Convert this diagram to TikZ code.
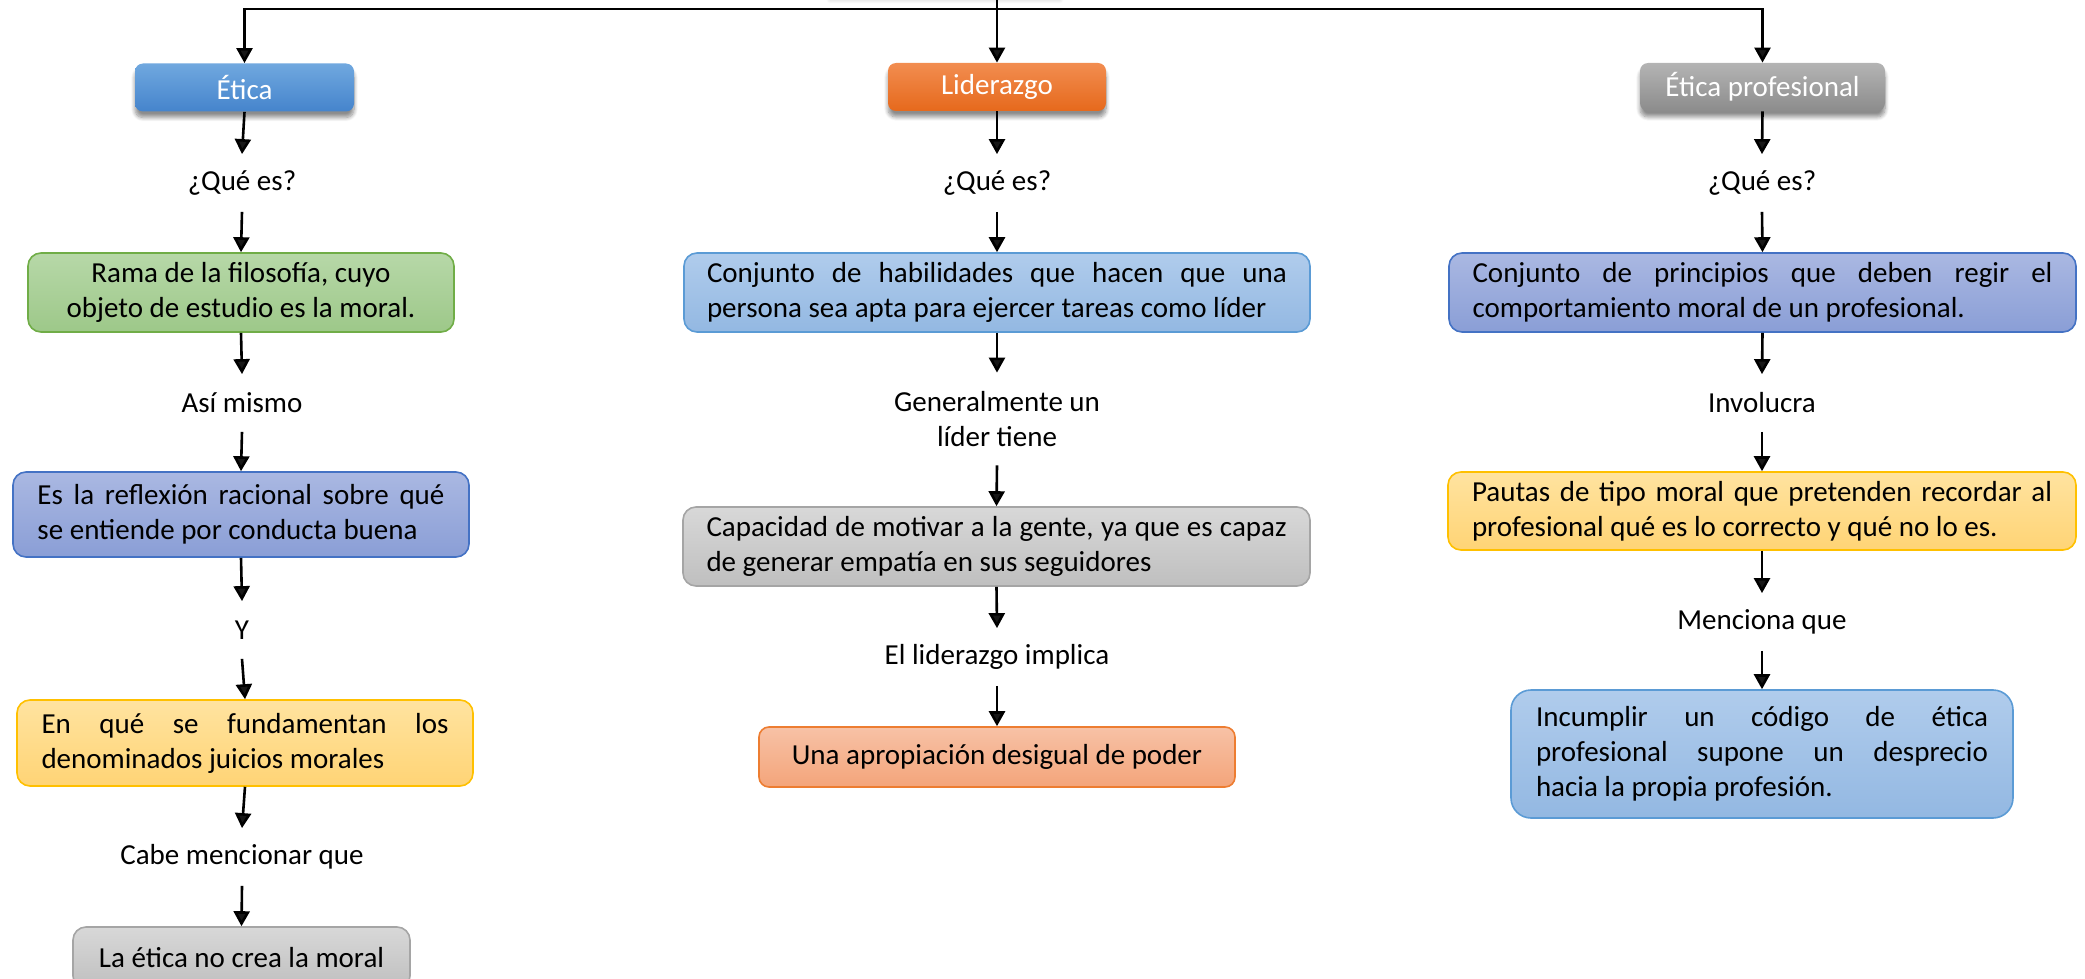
\documentclass[tikz,border=0pt]{standalone}
\usepackage{fontspec}
\setmainfont{Carlito}
\usetikzlibrary{arrows.meta,shadows.blur}
\newcommand{\jl}[2]{{\spaceskip=\fontdimen2\font plus 1fil\relax\xspaceskip=\spaceskip\hbox to #1{#2}}}
\definecolor{tBlueT}{HTML}{70A8DF}
\definecolor{tBlueB}{HTML}{4584CC}
\definecolor{tOrT}{HTML}{F28D50}
\definecolor{tOrB}{HTML}{E6691C}
\definecolor{tGrT}{HTML}{B4B4B4}
\definecolor{tGrB}{HTML}{8C8C8C}
\definecolor{gT}{HTML}{B7D8A8}
\definecolor{gB}{HTML}{9DC889}
\definecolor{gD}{HTML}{70AD47}
\definecolor{pT}{HTML}{AAB8E2}
\definecolor{pB}{HTML}{8A9ED6}
\definecolor{pD}{HTML}{4472C4}
\definecolor{lbT}{HTML}{B0CCEC}
\definecolor{lbB}{HTML}{93B8E2}
\definecolor{lbD}{HTML}{5B9BD5}
\definecolor{yT}{HTML}{FFE3A0}
\definecolor{yB}{HTML}{FFD475}
\definecolor{yD}{HTML}{FFC000}
\definecolor{grT}{HTML}{D8D8D8}
\definecolor{grB}{HTML}{BFBFBF}
\definecolor{grD}{HTML}{A5A5A5}
\definecolor{sT}{HTML}{F7C2A6}
\definecolor{sB}{HTML}{F4A47A}
\definecolor{sD}{HTML}{ED7D31}
\begin{document}
\begin{tikzpicture}[x=0.5pt,y=-0.5pt,
  every node/.style={font=\fontsize{14.5pt}{17.5pt}\selectfont},
  arr/.style={line width=1.3pt,-{Triangle[width=8pt,length=7.5pt]}},
  lbl/.style={inner sep=0pt,minimum height=28.5pt,align=center},
  title/.style={rounded corners=4pt,text=white,inner sep=0pt,minimum height=24pt,
    blur shadow={shadow xshift=0pt,shadow yshift=-3pt,shadow blur steps=8,shadow opacity=45}},
  box/.style={rounded corners=6.5pt,line width=0.8pt,inner sep=0pt,minimum height=39.5pt},
  green/.style={box,draw=gD,top color=gT,bottom color=gB},
  purple/.style={box,draw=pD,top color=pT,bottom color=pB},
  lblue/.style={box,draw=lbD,top color=lbT,bottom color=lbB},
  yellow/.style={box,draw=yD,top color=yT,bottom color=yB},
  grey/.style={box,draw=grD,top color=grT,bottom color=grB},
  salmon/.style={box,draw=sD,top color=sT,bottom color=sB}]
\useasboundingbox (0,0) rectangle (2085,979);
% faint shadow of a box above the frame
\path[fill=white,blur shadow={shadow xshift=0pt,shadow yshift=-3pt,shadow blur steps=8,shadow opacity=18}] (830,-60) rectangle (1060,-6);

% titles
\node[title,top color=tBlueT,bottom color=tBlueB,minimum width=109.5pt] (T1) at (244.5,87.5) {Ética};
\node[title,top color=tOrT,bottom color=tOrB,minimum width=109pt] (T2) at (997,87) {Liderazgo};
\node[title,top color=tGrT,bottom color=tGrB,minimum width=122.5pt] (T3) at (1762.5,87) {Ética profesional};

% column 1
\node[lbl] (q1) at (242,183) {¿Qué es?};
\node[green,minimum width=213pt,align=center] (b1) at (241,292.5) {Rama de la filosofía, cuyo\\objeto de estudio es la moral.};
\node[lbl] (l1) at (242,403) {Así mismo};
\node[purple,minimum width=228pt,minimum height=42.5pt,align=left] (b2) at (241,514.5)
  {\jl{203.5pt}{Es la reflexión racional sobre qué}\\se entiende por conducta buena};
\node[lbl] (l2) at (242,630) {Y};
\node[yellow,minimum width=228pt,minimum height=43pt,align=left] (b3) at (245,743)
  {\jl{203.5pt}{En qué se fundamentan los}\\denominados juicios morales};
\node[lbl] (l3) at (242,857) {Cabe mencionar que};
\node[grey,minimum width=168.5pt,minimum height=31pt] (b4) at (241.5,958) {La ética no crea la moral};

% column 2
\node[lbl] (q2) at (997,183) {¿Qué es?};
\node[lblue,minimum width=313pt,align=left] (c1) at (997,292.5)
  {\jl{290pt}{Conjunto de habilidades que hacen que una}\\persona sea apta para ejercer tareas como líder};
\node[lbl,minimum height=46pt] (l4) at (997,419) {Generalmente un\\líder tiene};
\node[grey,minimum width=313.5pt,align=left] (c2) at (996.5,546.5)
  {\jl{290pt}{Capacidad de motivar a la gente, ya que es capaz}\\de generar empatía en sus seguidores};
\node[lbl] (l5) at (997,657) {El liderazgo implica};
\node[salmon,minimum width=238pt,minimum height=30pt,rounded corners=5pt] (c3) at (997,757) {Una apropiación desigual de poder};

% column 3
\node[lbl] (q3) at (1762,183) {¿Qué es?};
\node[purple,minimum width=313.5pt,align=left] (d1) at (1762.5,292.5)
  {\jl{290pt}{Conjunto de principios que deben regir el}\\comportamiento moral de un profesional.};
\node[lbl] (l6) at (1762,403) {Involucra};
\node[yellow,minimum width=314pt,minimum height=39pt,align=left] (d2) at (1762,511)
  {\jl{290pt}{Pautas de tipo moral que pretenden recordar al}\\profesional qué es lo correcto y qué no lo es.};
\node[lbl] (l7) at (1762,622) {Menciona que};
\node[lblue,minimum width=251pt,minimum height=64pt,align=left,rounded corners=10pt] (d3) at (1762,754)
  {\jl{226pt}{Incumplir un código de ética}\\\jl{226pt}{profesional supone un desprecio}\\hacia la propia profesión.};

% top connectors
\coordinate (top) at (997,-2);
\coordinate (hub) at (997,9);
\draw[arr] (top) -- (T2.north);
\draw[arr] (hub) -| (T1.north);
\draw[arr] (hub) -| (T3.north);

% column arrows
\draw[arr] (T1.south) -- (q1.north);
\draw[arr] (q1.south) -- (b1.north);
\draw[arr] (b1.south) -- (l1.north);
\draw[arr] (l1.south) -- (b2.north);
\draw[arr] (b2.south) -- (l2.north);
\draw[arr] (l2.south) -- (b3.north);
\draw[arr] (b3.south) -- (l3.north);
\draw[arr] (l3.south) -- (b4.north);

\draw[arr] (T2.south) -- (q2.north);
\draw[arr] (q2.south) -- (c1.north);
\draw[arr] (c1.south) -- (l4.north);
\draw[arr] (l4.south) -- (c2.north);
\draw[arr] (c2.south) -- (l5.north);
\draw[arr] (l5.south) -- (c3.north);

\draw[arr] (T3.south) -- (q3.north);
\draw[arr] (q3.south) -- (d1.north);
\draw[arr] (d1.south) -- (l6.north);
\draw[arr] (l6.south) -- (d2.north);
\draw[arr] (d2.south) -- (l7.north);
\draw[arr] (l7.south) -- (d3.north);
\end{tikzpicture}
\end{document}
